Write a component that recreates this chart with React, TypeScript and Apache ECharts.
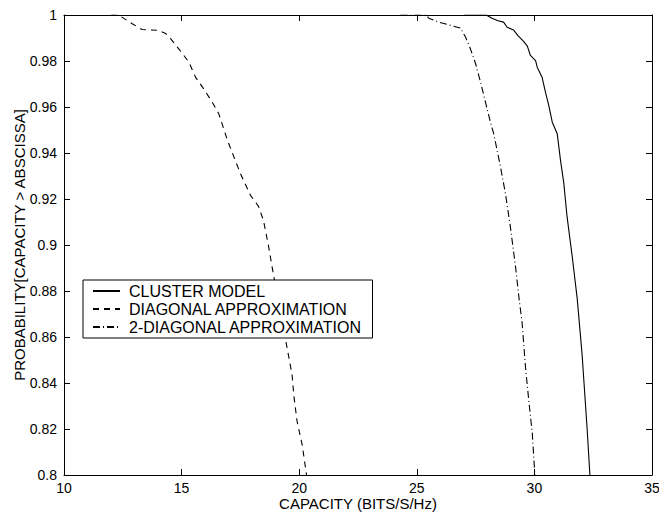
import React, { useEffect, useRef } from "react";
import * as echarts from "echarts";

const seriesNames = ["CLUSTER MODEL", "DIAGONAL APPROXIMATION", "2-DIAGONAL APPROXIMATION"];

const clusterModel: number[][] = [
  [27.0, 1.0], [27.95, 1.0], [28.2, 0.9986], [28.45, 0.9975], [28.69, 0.9969], [28.84, 0.9947],
  [29.11, 0.9935], [29.3, 0.991], [29.54, 0.9885], [29.7, 0.9865], [29.83, 0.9824], [30.05, 0.9802],
  [30.12, 0.9773], [30.33, 0.9728], [30.47, 0.9665], [30.61, 0.9607], [30.76, 0.9534], [30.97, 0.9484],
  [31.11, 0.9368], [31.25, 0.9269], [31.39, 0.9122], [31.61, 0.8948], [31.82, 0.8767], [32.03, 0.8521],
  [32.24, 0.8203], [32.36, 0.8],
];

const diagonalApprox: number[][] = [
  [12.0, 1.0], [12.32, 1.0], [12.9, 0.9962], [13.32, 0.9937], [14.03, 0.9933], [14.32, 0.992],
  [14.53, 0.9897], [14.88, 0.9853], [15.31, 0.9795], [15.59, 0.973], [15.94, 0.9679], [16.3, 0.9621],
  [16.58, 0.9571], [16.95, 0.9455], [17.5, 0.9311], [17.93, 0.9216], [18.27, 0.9168], [18.48, 0.9107],
  [18.69, 0.8999], [18.91, 0.8868], [19.49, 0.855], [19.7, 0.8434], [19.77, 0.8347], [19.91, 0.8233],
  [20.13, 0.813], [20.27, 0.8029], [20.31, 0.8],
];

const twoDiagonalApprox: number[][] = [
  [24.3, 1.0], [25.4, 1.0], [25.51, 0.9986], [25.94, 0.9969], [26.36, 0.9957], [26.86, 0.9943],
  [27.07, 0.9904], [27.28, 0.9853], [27.5, 0.9788], [27.71, 0.9708], [27.92, 0.9621], [28.13, 0.9534],
  [28.27, 0.9484], [28.56, 0.9339], [28.77, 0.9223], [28.98, 0.9078], [29.2, 0.8904], [29.34, 0.8774],
  [29.48, 0.8659], [29.62, 0.847], [29.76, 0.8325], [29.91, 0.8181], [30.02, 0.8],
];

const xRange = { min: 10, max: 35, interval: 5 };
const yRange = { min: 0.8, max: 1, interval: 0.02 };

const FONT = "'Liberation Sans', Arial, Helvetica, sans-serif";

export default function App() {
  const ref = useRef<HTMLDivElement>(null);
  useEffect(() => {
    if (!ref.current) return;
    const chart = echarts.init(ref.current, undefined, { renderer: "svg" });
    const axisLine = { show: true, lineStyle: { color: "#000", width: 1 } };
    const axisTick = { show: true, inside: true, length: 6, lineStyle: { color: "#000", width: 1 } };
    const tickLabel = { color: "#000", fontSize: 14, fontFamily: FONT };
    const nameStyle = { color: "#000", fontSize: 15, fontFamily: FONT };
    chart.setOption({
      animation: false,
      backgroundColor: "#fff",
      grid: { left: 64, right: 7, top: 15, bottom: 38, outerBoundsMode: "none", containLabel: false },
      legend: {
        data: seriesNames,
        orient: "vertical",
        left: 83,
        top: 280,
        itemWidth: 27,
        itemHeight: 14,
        itemGap: 2,
        padding: [3, 10, 3, 9],
        borderColor: "#000",
        borderWidth: 1,
        borderRadius: 0,
        backgroundColor: "#fff",
        itemStyle: { opacity: 0 },
        textStyle: { color: "#000", fontSize: 16, fontFamily: FONT, padding: [0, 0, 0, 4] },
        selectedMode: false,
      },
      xAxis: [
        {
          type: "value",
          ...xRange,
          position: "bottom",
          name: "CAPACITY (BITS/S/Hz)",
          nameLocation: "middle",
          nameGap: 21,
          nameMoveOverlap: false,
          nameTextStyle: nameStyle,
          axisLine,
          axisTick,
          axisLabel: { ...tickLabel, margin: 6 },
          splitLine: { show: false },
        },
        {
          type: "value",
          ...xRange,
          position: "top",
          axisLine,
          axisTick,
          axisLabel: { show: false },
          splitLine: { show: false },
        },
      ],
      yAxis: [
        {
          type: "value",
          ...yRange,
          position: "left",
          name: "PROBABILITY[CAPACITY > ABSCISSA]",
          nameLocation: "middle",
          nameGap: 37,
          nameRotate: 90,
          nameMoveOverlap: false,
          nameTextStyle: nameStyle,
          axisLine,
          axisTick,
          axisLabel: { ...tickLabel, margin: 7 },
          splitLine: { show: false },
        },
        {
          type: "value",
          ...yRange,
          position: "right",
          axisLine,
          axisTick,
          axisLabel: { show: false },
          splitLine: { show: false },
        },
      ],
      series: [
        {
          name: seriesNames[0],
          type: "line",
          data: clusterModel,
          symbol: "none",
          lineStyle: { color: "#000", width: 1.1, type: "solid" },
          itemStyle: { color: "#000" },
        },
        {
          name: seriesNames[1],
          type: "line",
          data: diagonalApprox,
          symbol: "none",
          lineStyle: { color: "#000", width: 1.1, type: [6, 5] },
          itemStyle: { color: "#000" },
        },
        {
          name: seriesNames[2],
          type: "line",
          data: twoDiagonalApprox,
          symbol: "none",
          lineStyle: { color: "#000", width: 1.1, type: [7, 3, 1, 3] },
          itemStyle: { color: "#000" },
        },
      ],
    });
    return () => chart.dispose();
  }, []);
  return (
    <div
      ref={ref}
      style={{ position: "fixed", left: 0, top: 0, width: 659, height: 513, background: "#fff" }}
    />
  );
}
